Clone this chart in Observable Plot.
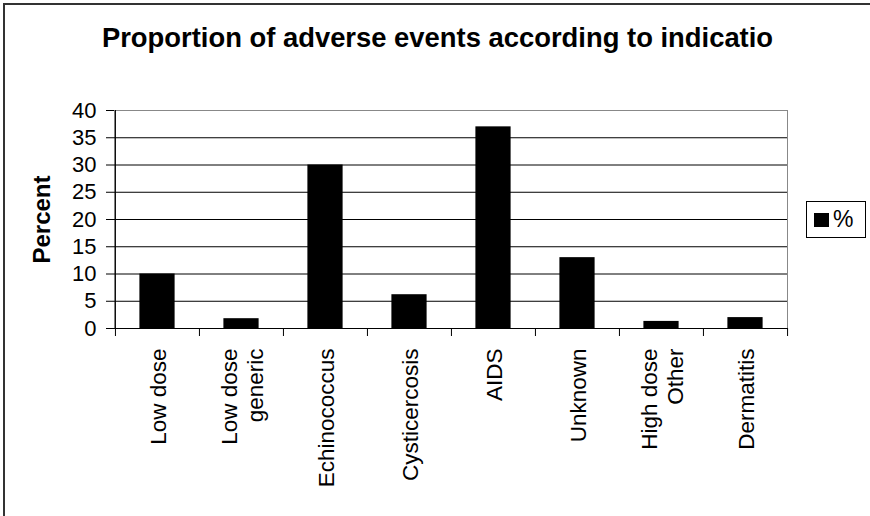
<!DOCTYPE html>
<html>
<head>
<meta charset="utf-8">
<script src="https://cdn.jsdelivr.net/npm/d3@7"></script>
<script src="https://cdn.jsdelivr.net/npm/@observablehq/plot@0.6"></script>
<style>
  html, body { margin: 0; padding: 0; background: #fff; }
  #wrap { position: relative; width: 870px; height: 516px; overflow: hidden; font-family: "Liberation Sans", Arial, sans-serif; }
  #border { position: absolute; left: 3px; top: 3px; width: 880px; height: 530px; border-left: 2px solid #333; border-top: 2px solid #333; box-sizing: border-box; }
  #title { position: absolute; left: 0; top: 24px; width: 875px; text-align: center; font-size: 27.4px; line-height: 27px; font-weight: bold; color: #000; }
  #legend { position: absolute; left: 806px; top: 201px; width: 60px; height: 37px; box-sizing: border-box; border: 1px solid #000; background: #fff; }
  #legend .sw { position: absolute; left: 7px; top: 11px; width: 15px; height: 14px; background: #000; }
  #legend .lb { position: absolute; left: 26px; top: 5px; font-size: 23px; line-height: 24px; color: #000; }
  #chart { position: absolute; left: 0; top: 0; }
</style>
</head>
<body>
<div id="wrap">
  <div id="chart"></div>
  <div id="border"></div>
  <div id="title"></div>
  <div id="legend"><div class="sw"></div><div class="lb"></div></div>
</div>
<script>
const titleText = "Proportion of adverse events according to indicatio";
const yLabel = "Percent";
const seriesName = "%";
const categories = ["Low dose", "Low dose\ngeneric", "Echinococcus", "Cysticercosis", "AIDS", "Unknown", "High dose\nOther", "Dermatitis"];
const percents = [10, 1.8, 30, 6.2, 37, 13, 1.3, 2.0];
const yTicks = [0, 5, 10, 15, 20, 25, 30, 35, 40];

const data = categories.map((c, i) => ({cat: c, value: percents[i]}));

const W = 870, H = 516;
const mL = 114, mR = 83, mT = 110, mB = 188;
const bw = (W - mL - mR) / categories.length;
const barInset = bw * 0.29;

document.getElementById("title").textContent = titleText;
document.querySelector("#legend .lb").textContent = seriesName;

const chart = Plot.plot({
  width: W,
  height: H,
  marginLeft: mL,
  marginRight: mR,
  marginTop: mT,
  marginBottom: mB,
  style: {fontFamily: "'Liberation Sans', Arial, sans-serif", fontSize: "22px", color: "#000", background: "transparent", overflow: "visible"},
  x: {type: "band", domain: categories, padding: 0},
  y: {domain: [0, 40]},
  marks: [
    Plot.frame({stroke: "#888", strokeWidth: 1}),
    Plot.ruleY(yTicks.filter(t => t > 0 && t < 40), {stroke: "#000", strokeWidth: 1}),
    Plot.barY(data, {x: "cat", y: "value", fill: "#000", insetLeft: barInset, insetRight: barInset}),
    Plot.ruleY([0], {stroke: "#000", strokeWidth: 1}),
    Plot.ruleX([categories[0]], {x: d => d, dx: -bw / 2, stroke: "#000", strokeWidth: 1}),
    Plot.ruleX(categories, {x: d => d, y1: 0, y2: 0, dx: -bw / 2, insetBottom: -8, stroke: "#000", strokeWidth: 1}),
    Plot.ruleX([categories[categories.length - 1]], {x: d => d, y1: 0, y2: 0, dx: bw / 2, insetBottom: -8, stroke: "#000", strokeWidth: 1}),
    Plot.axisY({ticks: yTicks, tickSize: 8, tickPadding: 10, fontSize: 22, label: null, tickFormat: d => String(d)}),
    Plot.axisX({tickSize: 0, tickPadding: 20, tickRotate: -90, textAnchor: "end", lineAnchor: "middle", lineHeight: 1.15, fontSize: 22.5, label: null}),
    Plot.text([yLabel], {frameAnchor: "left", text: d => d, rotate: -90, dx: -72, fontSize: 24, fontWeight: "bold", textAnchor: "middle"})
  ]
});
document.getElementById("chart").appendChild(chart);
</script>
</body>
</html>
